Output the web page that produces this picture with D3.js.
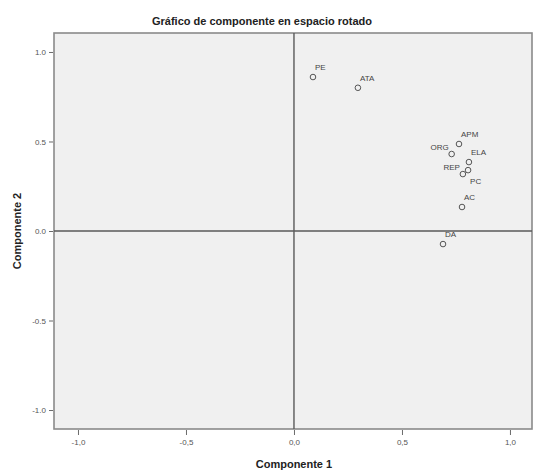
<!DOCTYPE html>
<html>
<head>
<meta charset="utf-8">
<script src="https://cdn.jsdelivr.net/npm/d3@7"></script>
<style>
  body { margin: 0; background: #fff; }
  svg { font-family: Arial, "Liberation Sans", sans-serif; }
</style>
</head>
<body>
<svg id="chart"></svg>
<script>
// datos
var labels = ["PE", "ATA", "APM", "ORG", "ELA", "PC", "REP", "AC", "DA"];
var comp1  = [0.088, 0.296, 0.764, 0.730, 0.810, 0.806, 0.782, 0.778, 0.690];
var comp2  = [0.860, 0.800, 0.486, 0.430, 0.385, 0.340, 0.318, 0.134, -0.073];
// posicion de la etiqueta: r = arriba derecha, l = izquierda, b = abajo derecha
var labelPos = ["r", "r", "r", "l", "r", "b", "l", "r", "r"];
var xTicks = [-1.0, -0.5, 0.0, 0.5, 1.0];
var yTicks = [-1.0, -0.5, 0.0, 0.5, 1.0];

var width = 534, height = 474;
var margin = { top: 33, right: 2, bottom: 45, left: 54 };

var svg = d3.select("#chart")
  .attr("width", width)
  .attr("height", height);

var x = d3.scaleLinear().domain([-1.111, 1.102]).range([margin.left, width - margin.right]);
var y = d3.scaleLinear().domain([-1.106, 1.106]).range([height - margin.bottom, margin.top]);

// fondo del area de trazado
svg.append("rect")
  .attr("x", x(-1.111))
  .attr("y", y(1.106))
  .attr("width", x(1.102) - x(-1.111))
  .attr("height", y(-1.106) - y(1.106))
  .attr("fill", "#f0f0f0")
  .attr("stroke", "#8a8a8a")
  .attr("stroke-width", 1.6);

// lineas de referencia en 0
svg.append("line")
  .attr("x1", x(0)).attr("x2", x(0))
  .attr("y1", y(1.106)).attr("y2", y(-1.106))
  .attr("stroke", "#5a5a5a").attr("stroke-width", 1.4);
svg.append("line")
  .attr("x1", x(-1.111)).attr("x2", x(1.102))
  .attr("y1", y(0)).attr("y2", y(0))
  .attr("stroke", "#5a5a5a").attr("stroke-width", 1.4);

// ejes
var xAxis = d3.axisBottom(x)
  .tickValues(xTicks)
  .tickSize(5)
  .tickFormat(function(d) { return d3.format(".1f")(d).replace(".", ",").replace("−", "-"); });
var yAxis = d3.axisLeft(y)
  .tickValues(yTicks)
  .tickSize(4)
  .tickFormat(function(d) { return d3.format(".1f")(d).replace("−", "-"); });

var gx = svg.append("g")
  .attr("transform", "translate(0," + (height - margin.bottom + 1) + ")")
  .call(xAxis);
var gy = svg.append("g")
  .attr("transform", "translate(" + (margin.left - 1) + ",0)")
  .call(yAxis);

[gx, gy].forEach(function(g) {
  g.select(".domain").remove();
  g.selectAll(".tick line").attr("stroke", "#6a6a6a").attr("stroke-width", 1);
  g.selectAll(".tick text").attr("fill", "#555").style("font-size", "8px");
});
gx.selectAll(".tick text").attr("dy", "0.9em");

// puntos
var pts = svg.selectAll(".pt")
  .data(labels)
  .enter().append("g")
  .attr("class", "pt");

pts.append("circle")
  .attr("cx", function(d, i) { return x(comp1[i]); })
  .attr("cy", function(d, i) { return y(comp2[i]); })
  .attr("r", 2.8)
  .attr("fill", "none")
  .attr("stroke", "#555")
  .attr("stroke-width", 1);

pts.append("text")
  .attr("x", function(d, i) {
    var p = labelPos[i];
    return x(comp1[i]) + (p === "l" ? -3 : 2);
  })
  .attr("y", function(d, i) {
    var p = labelPos[i];
    if (p === "l") return y(comp2[i]) - 4;
    if (p === "b") return y(comp2[i]) + 14;
    return y(comp2[i]) - 7;
  })
  .attr("text-anchor", function(d, i) { return labelPos[i] === "l" ? "end" : "start"; })
  .attr("fill", "#444")
  .style("font-size", "8px")
  .text(function(d) { return d; });

// titulos
svg.append("text")
  .attr("x", 262).attr("y", 25)
  .attr("text-anchor", "middle")
  .style("font-size", "11px").style("font-weight", "bold")
  .attr("fill", "#222")
  .text("Gráfico de componente en espacio rotado");

svg.append("text")
  .attr("x", x(0)).attr("y", 468)
  .attr("text-anchor", "middle")
  .style("font-size", "11px").style("font-weight", "bold")
  .attr("fill", "#222")
  .text("Componente 1");

svg.append("text")
  .attr("transform", "translate(21," + y(0) + ") rotate(-90)")
  .attr("text-anchor", "middle")
  .style("font-size", "11px").style("font-weight", "bold")
  .attr("fill", "#222")
  .text("Componente 2");
</script>
</body>
</html>
